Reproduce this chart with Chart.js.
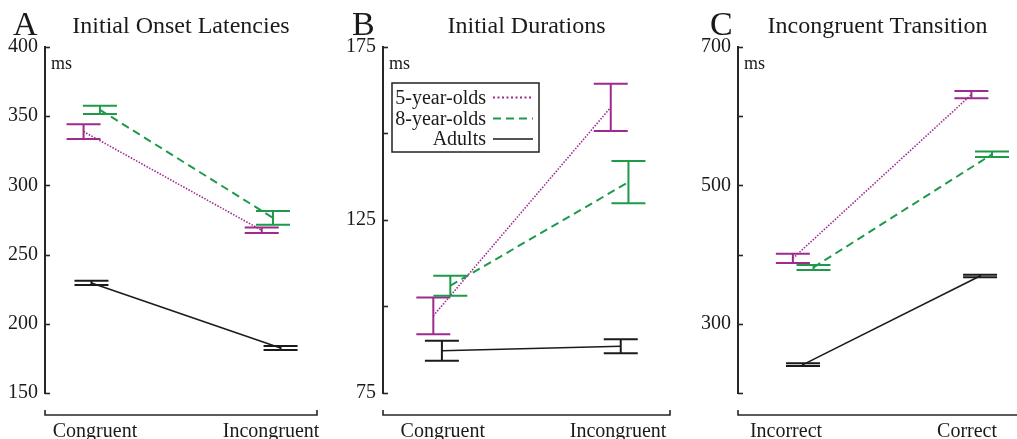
<!DOCTYPE html>
<html>
<head>
<meta charset="utf-8">
<script src="https://cdn.jsdelivr.net/npm/chart.js@4.4.1/dist/chart.umd.min.js"></script>
<style>
  html, body { margin: 0; padding: 0; background: #fff; }
  #wrap { position: relative; width: 1017px; height: 439px; overflow: hidden; }
  canvas { position: absolute; top: 0; }
</style>
</head>
<body>
<div id="wrap">
  <canvas id="panelA" width="335" height="439" style="left:0px"></canvas>
  <canvas id="panelB" width="345" height="439" style="left:335px"></canvas>
  <canvas id="panelC" width="337" height="439" style="left:680px"></canvas>
</div>
<script>
const seriesNames = ['5-year-olds', '8-year-olds', 'Adults'];

// A - initial onset latencies (ms), mean and error
const categoriesA = ['Congruent', 'Incongruent'];
const fiveA = [338.8, 267.5];
const fiveErrA = [5.3, 2.0];
const eightA = [354.5, 276.5];
const eightErrA = [3.0, 5.0];
const adultA = [229.5, 182.5];
const adultErrA = [1.5, 1.5];
const yLabelsA = [150, 200, 250, 300, 350, 400];

// B - initial durations (ms)
const categoriesB = ['Congruent', 'Incongruent'];
const fiveB = [97.3, 157.5];
const fiveErrB = [5.3, 6.8];
const eightB = [106.0, 135.9];
const eightErrB = [2.9, 6.1];
const adultB = [87.2, 88.5];
const adultErrB = [2.9, 2.0];
const yLabelsB = [75, 125, 175];

// C - incongruent transition (ms)
const categoriesC = ['Incorrect', 'Correct'];
const fiveC = [394.5, 631.0];
const fiveErrC = [6.7, 5.3];
const eightC = [381.4, 544.7];
const eightErrC = [3.6, 4.0];
const adultC = [241.0, 369.0];
const adultErrC = [2.0, 1.7];
const yLabelsC = [300, 500, 700];

const SERIF = '"Liberation Serif", "Times New Roman", serif';
const INK = '#1a1a1a';
const lineStyles = [
  { color: '#9e2a8e', width: 1.6, dash: [1.5, 1.5] },
  { color: '#1f9a4b', width: 2, dash: [8, 5] },
  { color: '#1b1b1b', width: 1.6, dash: [] }
];

// whiskers with caps, drawn on top of the lines
const errorBars = {
  id: 'errorBars',
  afterDatasetsDraw(chart) {
    const { ctx, scales: { x, y } } = chart;
    chart.data.datasets.forEach(ds => {
      ctx.save();
      ctx.strokeStyle = ds.borderColor;
      ctx.lineWidth = 2;
      ds.data.forEach((pt, i) => {
        const px = x.getPixelForValue(pt.x);
        const top = y.getPixelForValue(pt.y + ds.errors[i]);
        const bot = y.getPixelForValue(pt.y - ds.errors[i]);
        ctx.beginPath();
        ctx.moveTo(px, top); ctx.lineTo(px, bot);
        ctx.moveTo(px - 17, top); ctx.lineTo(px + 17, top);
        ctx.moveTo(px - 17, bot); ctx.lineTo(px + 17, bot);
        ctx.stroke();
      });
      ctx.restore();
    });
  }
};

// inward ticks, detached x axis, panel letter, "ms", boxed legend
const frame = {
  id: 'frame',
  afterDraw(chart, args, opts) {
    const { ctx, chartArea, scales: { y } } = chart;
    ctx.save();
    ctx.strokeStyle = '#262626';
    ctx.lineWidth = 1.6;
    y.ticks.forEach(t => {
      const py = Math.round(y.getPixelForValue(t.value)) + 0.5;
      ctx.beginPath();
      ctx.moveTo(chartArea.left, py);
      ctx.lineTo(chartArea.left + 5, py);
      ctx.stroke();
    });

    const ay = chartArea.bottom + 22;
    ctx.beginPath();
    ctx.moveTo(chartArea.left, ay - 5);
    ctx.lineTo(chartArea.left, ay);
    if (opts.openRight) {
      ctx.lineTo(chart.width, ay);
    } else {
      ctx.lineTo(chartArea.right, ay);
      ctx.lineTo(chartArea.right, ay - 5);
    }
    ctx.stroke();

    ctx.fillStyle = INK;
    ctx.textBaseline = 'alphabetic';
    ctx.textAlign = 'left';
    ctx.font = '34px ' + SERIF;
    ctx.fillText(opts.letter, opts.letterX, 35);
    ctx.font = '18px ' + SERIF;
    ctx.fillText('ms', chartArea.left + 6, 69);

    const lg = opts.legend;
    if (lg) {
      ctx.lineWidth = 1.5;
      ctx.strokeStyle = '#222';
      ctx.strokeRect(lg.left, lg.top, lg.right - lg.left, lg.bottom - lg.top);
      ctx.font = '20px ' + SERIF;
      ctx.textAlign = 'right';
      ctx.textBaseline = 'middle';
      chart.data.datasets.forEach((ds, k) => {
        const ry = lg.rows[k];
        ctx.fillStyle = INK;
        ctx.fillText(ds.label, lg.textRight, ry + 1);
        ctx.save();
        ctx.strokeStyle = ds.borderColor;
        ctx.lineWidth = k === 0 ? 2 : ds.borderWidth;
        ctx.setLineDash(k === 0 ? [2, 2.5] : ds.borderDash);
        ctx.beginPath();
        ctx.moveTo(lg.sampleLeft, ry);
        ctx.lineTo(lg.sampleRight, ry);
        ctx.stroke();
        ctx.restore();
      });
    }
    ctx.restore();
  }
};

function buildPanel(id, p) {
  const datasets = p.series.map((s, k) => ({
    label: seriesNames[k],
    data: s.values.map((v, i) => ({ x: i + p.dodge[k][i], y: v })),
    errors: s.errors,
    borderColor: lineStyles[k].color,
    borderWidth: lineStyles[k].width,
    borderDash: lineStyles[k].dash,
    pointRadius: 0,
    fill: false,
    tension: 0
  }));

  return new Chart(document.getElementById(id), {
    type: 'line',
    data: { datasets },
    plugins: [errorBars, frame],
    options: {
      responsive: false,
      animation: false,
      devicePixelRatio: 1,
      layout: { padding: { left: 0, right: p.padRight, top: 0, bottom: 0 } },
      plugins: {
        legend: { display: false },
        tooltip: { enabled: false },
        title: {
          display: true,
          text: p.title,
          fullSize: false,
          color: INK,
          font: { family: SERIF, size: 24, weight: 'normal' },
          padding: { top: 12, bottom: 6 }
        },
        frame: { letter: p.letter, letterX: p.letterX, legend: p.legend, openRight: p.openRight }
      },
      scales: {
        x: {
          type: 'linear',
          min: p.xMin,
          max: p.xMax,
          // hidden tick marks only push the labels down
          grid: { display: false, drawTicks: true, tickLength: 27 },
          border: { display: false },
          afterBuildTicks: scale => {
            scale.ticks = p.categories.map((c, i) => ({ value: i }));
          },
          afterFit: scale => { scale.height = 46; },
          ticks: {
            padding: 0,
            maxRotation: 0,
            autoSkip: false,
            color: INK,
            font: { family: SERIF, size: 20 },
            callback: v => p.categories[v]
          }
        },
        y: {
          min: p.yMin,
          max: p.yMax,
          grid: { display: false, drawTicks: false },
          border: { display: true, color: '#262626', width: 2 },
          afterFit: scale => { scale.width = p.axisX; },
          ticks: {
            stepSize: p.yStep,
            padding: 7,
            autoSkip: false,
            color: INK,
            font: { family: SERIF, size: 20 },
            callback: v => (p.yLabels.includes(v) ? String(v) : '')
          }
        }
      }
    }
  });
}

buildPanel('panelA', {
  title: 'Initial Onset Latencies', letter: 'A', letterX: 13,
  categories: categoriesA, yLabels: yLabelsA,
  series: [
    { values: fiveA, errors: fiveErrA },
    { values: eightA, errors: eightErrA },
    { values: adultA, errors: adultErrA }
  ],
  dodge: [[-0.065, -0.053], [0.028, 0.011], [-0.020, 0.054]],
  xMin: -0.284, xMax: 1.261, yMin: 150, yMax: 400, yStep: 50,
  axisX: 45, padRight: 18
});

buildPanel('panelB', {
  title: 'Initial Durations', letter: 'B', letterX: 17,
  categories: categoriesB, yLabels: yLabelsB,
  series: [
    { values: fiveB, errors: fiveErrB },
    { values: eightB, errors: eightErrB },
    { values: adultB, errors: adultErrB }
  ],
  dodge: [[-0.054, -0.042], [0.043, 0.059], [-0.005, 0.015]],
  xMin: -0.341, xMax: 1.296, yMin: 75, yMax: 175, yStep: 25,
  axisX: 48, padRight: 10,
  legend: {
    left: 57, top: 83, right: 204, bottom: 152,
    textRight: 151, sampleLeft: 158, sampleRight: 198,
    rows: [97.5, 118.5, 139]
  }
});

buildPanel('panelC', {
  title: 'Incongruent Transition', letter: 'C', letterX: 30,
  categories: categoriesC, yLabels: yLabelsC,
  series: [
    { values: fiveC, errors: fiveErrC },
    { values: eightC, errors: eightErrC },
    { values: adultC, errors: adultErrC }
  ],
  dodge: [[0.038, 0.024], [0.152, 0.138], [0.094, 0.072]],
  xMin: -0.265, xMax: 1.276, yMin: 200, yMax: 700, yStep: 100,
  axisX: 58, padRight: 0, openRight: true
});
</script>
</body>
</html>
